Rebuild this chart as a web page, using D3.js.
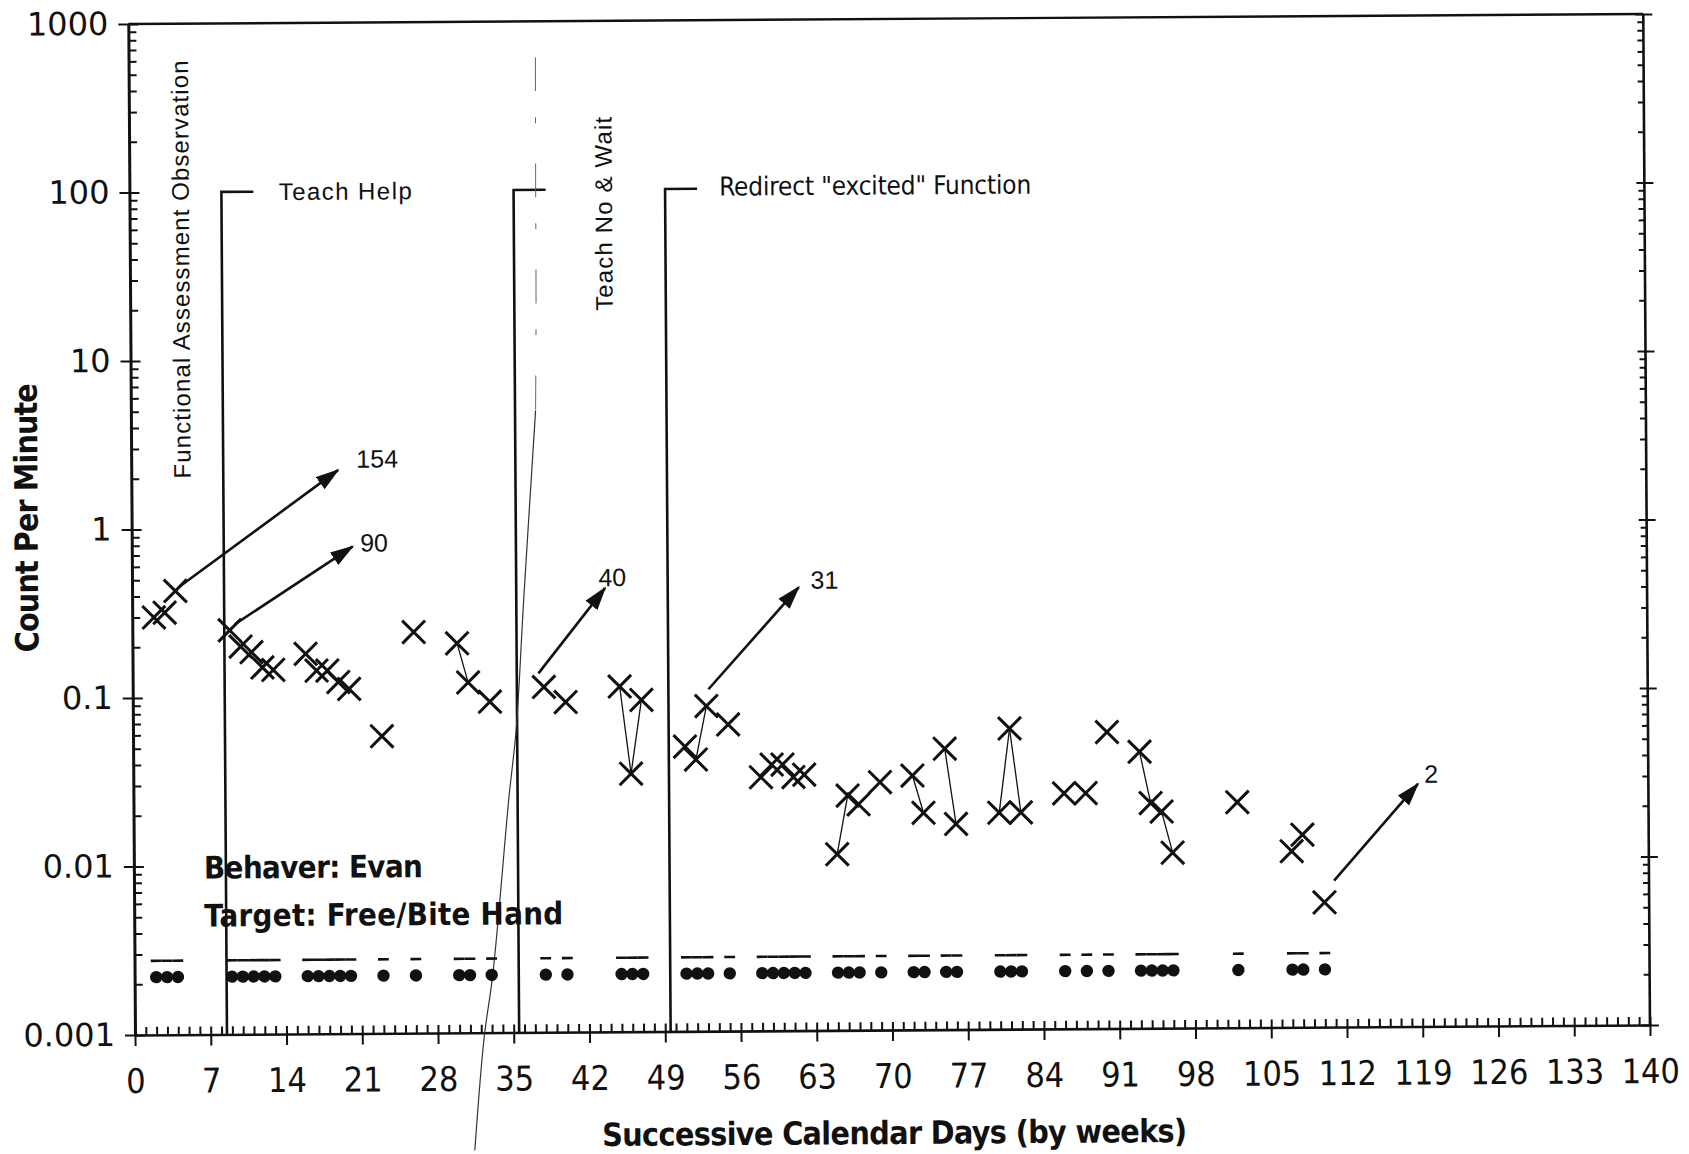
<!DOCTYPE html>
<html>
<head>
<meta charset="utf-8">
<title>Count Per Minute - Evan</title>
<script src="https://cdn.jsdelivr.net/npm/d3@7.9.0/dist/d3.min.js"></script>
<style>
  body { margin: 0; background: #fff; }
  svg { display: block; }
  .tick line { stroke: #111; stroke-width: 2; }
  .domain { stroke: #111; }
</style>
</head>
<body>
<svg id="chart" width="1689" height="1154"></svg>
<script>
// ---- data ----
const days = [2, 3, 4, 9, 10, 11, 12, 13, 16, 17, 18, 19, 20, 23, 26, 30, 31, 33, 38, 40,
  45, 46, 47, 51, 52, 53, 55, 58, 59, 60, 61, 62, 65, 66, 67, 69, 72, 73, 75, 76,
  80, 81, 82, 86, 88, 90, 93, 94, 95, 96, 102, 107, 108, 110];
const countPerMinute = [0.30, 0.32, 0.43, 0.25, 0.20, 0.185, 0.15, 0.145, 0.18, 0.143, 0.143, 0.122, 0.111, 0.058, 0.24, 0.205, 0.12, 0.092, 0.112, 0.091,
  0.112, 0.034, 0.093, 0.049, 0.041, 0.085, 0.066, 0.032, 0.038, 0.038, 0.032, 0.033, 0.0111, 0.0247, 0.0219, 0.0296, 0.0323, 0.0194, 0.0465, 0.0166,
  0.0193, 0.0609, 0.0193, 0.025, 0.025, 0.0575, 0.0438, 0.0217, 0.0193, 0.011, 0.0218, 0.0111, 0.0139, 0.0055];
// zero-count dots and record floor dashes, one per charted day
const dotValues = [0.0022, 0.0022, 0.0022, 0.0022, 0.0022, 0.0022, 0.0022, 0.0022, 0.0022, 0.0022, 0.0022, 0.0022, 0.0022, 0.0022, 0.0022, 0.0022, 0.0022, 0.0022, 0.0022, 0.0022,
  0.0022, 0.0022, 0.0022, 0.0022, 0.0022, 0.0022, 0.0022, 0.0022, 0.0022, 0.0022, 0.0022, 0.0022, 0.0022, 0.0022, 0.0022, 0.0022, 0.0022, 0.0022, 0.0022, 0.0022,
  0.0022, 0.0022, 0.0022, 0.0022, 0.0022, 0.0022, 0.0022, 0.0022, 0.0022, 0.0022, 0.0022, 0.0022, 0.0022, 0.0022];
const floorValues = [0.00275, 0.00275, 0.00275, 0.00275, 0.00275, 0.00275, 0.00275, 0.00275, 0.00275, 0.00275, 0.00275, 0.00275, 0.00275, 0.00275, 0.00275, 0.00275, 0.00275, 0.00275, 0.00275, 0.00275,
  0.00275, 0.00275, 0.00275, 0.00275, 0.00275, 0.00275, 0.00275, 0.00275, 0.00275, 0.00275, 0.00275, 0.00275, 0.00275, 0.00275, 0.00275, 0.00275, 0.00275, 0.00275, 0.00275, 0.00275,
  0.00275, 0.00275, 0.00275, 0.00275, 0.00275, 0.00275, 0.00275, 0.00275, 0.00275, 0.00275, 0.00275, 0.00275, 0.00275, 0.00275];
// pairs of days joined by a thin line
const linkedDays = [[30, 31], [31, 33], [45, 46], [46, 47], [52, 53], [65, 66], [72, 73], [75, 76], [80, 81], [81, 82], [93, 94], [94, 95], [95, 96]];

const xTicks = [0, 7, 14, 21, 28, 35, 42, 49, 56, 63, 70, 77, 84, 91, 98, 105, 112, 119, 126, 133, 140];
const yTicks = [1000, 100, 10, 1, 0.1, 0.01, 0.001];
const yTickLabels = ['1000', '100', '10', '1', '0.1', '0.01', '0.001'];

// phase change lines
const phaseDays = [8.5, 35.5, 49.5];
const phaseTopValue = 100;

// counts above the chart, shown as arrows: [day, value]
const offScaleLabels = ['154', '90', '40', '31', '2'];
const arrowFrom = [[4.4, 0.457], [9.5, 0.272], [37.5, 0.135], [53.2, 0.107], [110.9, 0.0074]];
const arrowTo = [[19.1, 2.21], [20.4, 0.776], [43.7, 0.43], [61.6, 0.427], [118.7, 0.0275]];
const arrowLabelAt = [[20.8, 2.58], [21.1, 0.82], [43.1, 0.5], [62.7, 0.473], [119.3, 0.0316]];

// fold in the scanned sheet
const creaseDashed = [[37.6, 611], [37.55, 136], [37.5, 18.2], [37.4, 4.91]];
const creaseSolid = [[37.4, 4.91], [36.2, 0.382], [35.4, 0.0619], [34.7, 0.0248],
  [33.1, 0.00221], [32.26, 0.000933], [31.33, 0.0002]];

// ---- chart ----
const plot = { left: 135, right: 1650, top: 24, bottom: 1035 };
const ink = '#111';

const x = d3.scaleLinear().domain([0, 140]).range([plot.left, plot.right]);
const y = d3.scaleLog().domain([0.001, 1000]).range([plot.bottom, plot.top]);

const svg = d3.select('#chart');
// the scanned sheet sits slightly tilted
const g = svg.append('g')
  .attr('transform', `rotate(-0.38, ${plot.left}, ${plot.bottom})`);

const isDecade = (v) => Math.abs(Math.log10(v) - Math.round(Math.log10(v))) < 1e-6;
const minorY = y.ticks().filter((v) => !isDecade(v));

// left axis
const leftAxis = g.append('g').attr('transform', `translate(${plot.left},0)`);
leftAxis.call(d3.axisLeft(y)
  .tickValues(yTicks)
  .tickSizeInner(10)
  .tickSizeOuter(0)
  .tickPadding(10)
  .tickFormat((d, i) => yTickLabels[i]));
leftAxis.select('.domain').attr('stroke-width', 3);
leftAxis.selectAll('text')
  .attr('fill', ink)
  .style('font-family', '"DejaVu Sans", sans-serif')
  .style('font-size', '32px');
leftAxis.append('g').call(d3.axisRight(y).tickValues(yTicks).tickSize(10).tickFormat(''))
  .select('.domain').remove();
leftAxis.append('g').call(d3.axisRight(y).tickValues(minorY).tickSize(8).tickFormat(''))
  .select('.domain').remove();

// right axis
const rightAxis = g.append('g').attr('transform', `translate(${plot.right},0)`);
rightAxis.append('line')
  .attr('y1', y(0.001)).attr('y2', y(1000))
  .attr('stroke', ink).attr('stroke-width', 2.6);
rightAxis.append('g').call(d3.axisLeft(y).tickValues(minorY).tickSize(6).tickFormat(''))
  .select('.domain').remove();
rightAxis.append('g').call(d3.axisLeft(y).tickValues(yTicks).tickSize(8).tickFormat(''))
  .select('.domain').remove();
rightAxis.append('g').call(d3.axisRight(y).tickValues(yTicks).tickSize(9).tickFormat(''))
  .select('.domain').remove();

// top border
g.append('line')
  .attr('x1', x(0)).attr('x2', x(140))
  .attr('y1', y(1000)).attr('y2', y(1000))
  .attr('stroke', ink).attr('stroke-width', 2.4);

// bottom axis
const bottomAxis = g.append('g').attr('transform', `translate(0,${plot.bottom})`);
bottomAxis.call(d3.axisBottom(x)
  .tickValues(xTicks)
  .tickSizeInner(11)
  .tickSizeOuter(0)
  .tickFormat((d) => d));
bottomAxis.select('.domain').attr('stroke-width', 2.6);
bottomAxis.selectAll('text')
  .attr('y', 58)
  .attr('dy', 0)
  .attr('fill', ink)
  .style('font-family', '"Liberation Sans Narrow", "DejaVu Sans Condensed", sans-serif')
  .style('font-stretch', 'condensed')
  .style('font-size', '34px');
bottomAxis.append('g').call(d3.axisTop(x).tickValues(d3.range(0, 141)).tickSize(8).tickFormat(''))
  .select('.domain').remove();

// phase change lines
phaseDays.forEach((d) => {
  g.append('path')
    .attr('d', `M${x(d)},${y(0.001)}V${y(phaseTopValue)}h32`)
    .attr('fill', 'none')
    .attr('stroke', ink)
    .attr('stroke-width', 2.6);
});

const labelFont = '"Liberation Sans", Arial, sans-serif';
const narrowFont = '"Liberation Sans Narrow", "DejaVu Sans Condensed", sans-serif';

g.append('text')
  .attr('x', x(13.8)).attr('y', y(100))
  .attr('dominant-baseline', 'central')
  .attr('textLength', 133)
  .style('font-family', labelFont).style('font-size', '24px')
  .attr('fill', ink)
  .text('Teach Help');

g.append('text')
  .attr('transform', `translate(${x(43.8)},${y(19)}) rotate(-90)`)
  .attr('dominant-baseline', 'central')
  .attr('textLength', 194)
  .style('font-family', labelFont).style('font-size', '24px')
  .attr('fill', ink)
  .text('Teach No & Wait');

g.append('text')
  .attr('x', x(54.5)).attr('y', y(100) - 2)
  .attr('dominant-baseline', 'central')
  .attr('textLength', 312)
  .style('font-family', narrowFont).style('font-size', '26px')
  .attr('fill', ink)
  .text('Redirect "excited" Function');

g.append('text')
  .attr('transform', `translate(${x(4.7)},${y(2.0)}) rotate(-90)`)
  .attr('dominant-baseline', 'central')
  .attr('textLength', 418)
  .style('font-family', labelFont).style('font-size', '24px')
  .attr('fill', ink)
  .text('Functional Assessment Observation');

// crease
const creaseLine = d3.line().x((p) => x(p[0])).y((p) => y(p[1])).curve(d3.curveCatmullRom);
g.append('path').attr('d', creaseLine(creaseDashed))
  .attr('fill', 'none').attr('stroke', '#666').attr('stroke-width', 1)
  .attr('stroke-dasharray', '34 26 6 40');
g.append('path').attr('d', creaseLine(creaseSolid))
  .attr('fill', 'none').attr('stroke', '#333').attr('stroke-width', 1.2);

// thin lines between linked days
const valueOn = (day) => countPerMinute[days.indexOf(day)];
g.append('g').selectAll('line')
  .data(linkedDays)
  .join('line')
  .attr('x1', (p) => x(p[0])).attr('y1', (p) => y(valueOn(p[0])))
  .attr('x2', (p) => x(p[1])).attr('y2', (p) => y(valueOn(p[1])))
  .attr('stroke', ink).attr('stroke-width', 1.3);

// X marks
g.append('g').selectAll('path')
  .data(days)
  .join('path')
  .attr('transform', (d, i) => `translate(${x(d)},${y(countPerMinute[i])})`)
  .attr('d', 'M-11.5,-11.5L11.5,11.5M-11.5,11.5L11.5,-11.5')
  .attr('stroke', ink).attr('stroke-width', 3).attr('fill', 'none');

// record floor dashes
g.append('g').selectAll('line')
  .data(days)
  .join('line')
  .attr('x1', (d) => x(d - 0.5)).attr('x2', (d) => x(d + 0.5))
  .attr('y1', (d, i) => y(floorValues[i])).attr('y2', (d, i) => y(floorValues[i]))
  .attr('stroke', ink).attr('stroke-width', 2.6);

// dots
g.append('g').selectAll('circle')
  .data(days)
  .join('circle')
  .attr('cx', (d) => x(d))
  .attr('cy', (d, i) => y(dotValues[i]))
  .attr('r', 6.2)
  .attr('fill', ink);

// arrows to off-scale counts
svg.append('defs').append('marker')
  .attr('id', 'head')
  .attr('markerUnits', 'userSpaceOnUse')
  .attr('viewBox', '0 -8 24 16')
  .attr('markerWidth', 24).attr('markerHeight', 16)
  .attr('refX', 22).attr('refY', 0)
  .attr('orient', 'auto')
  .append('path')
  .attr('d', 'M0,-7.5L24,0L0,7.5Z')
  .attr('fill', ink);

offScaleLabels.forEach((label, i) => {
  g.append('line')
    .attr('x1', x(arrowFrom[i][0])).attr('y1', y(arrowFrom[i][1]))
    .attr('x2', x(arrowTo[i][0])).attr('y2', y(arrowTo[i][1]))
    .attr('stroke', ink).attr('stroke-width', 2.6)
    .attr('marker-end', 'url(#head)');
  g.append('text')
    .attr('x', x(arrowLabelAt[i][0])).attr('y', y(arrowLabelAt[i][1]))
    .attr('dominant-baseline', 'central')
    .style('font-family', labelFont).style('font-size', '25px')
    .attr('fill', ink)
    .text(label);
});

// behaver and target
g.append('text')
  .attr('x', 205).attr('y', 879)
  .attr('textLength', 219)
  .style('font-family', narrowFont).style('font-weight', 'bold').style('font-size', '31px')
  .attr('fill', ink)
  .text('Behaver: Evan');
g.append('text')
  .attr('x', 205).attr('y', 927)
  .attr('textLength', 359)
  .style('font-family', narrowFont).style('font-weight', 'bold').style('font-size', '31px')
  .attr('fill', ink)
  .text('Target: Free/Bite Hand');

// axis titles
g.append('text')
  .attr('transform', 'translate(41,517) rotate(-90)')
  .attr('text-anchor', 'middle')
  .attr('textLength', 269)
  .style('font-family', narrowFont).style('font-weight', 'bold').style('font-size', '32px')
  .attr('fill', ink)
  .text('Count Per Minute');
g.append('text')
  .attr('x', 894).attr('y', 1149)
  .attr('text-anchor', 'middle')
  .attr('textLength', 585)
  .style('font-family', narrowFont).style('font-weight', 'bold').style('font-size', '32px')
  .attr('fill', ink)
  .text('Successive Calendar Days (by weeks)');
</script>
</body>
</html>
